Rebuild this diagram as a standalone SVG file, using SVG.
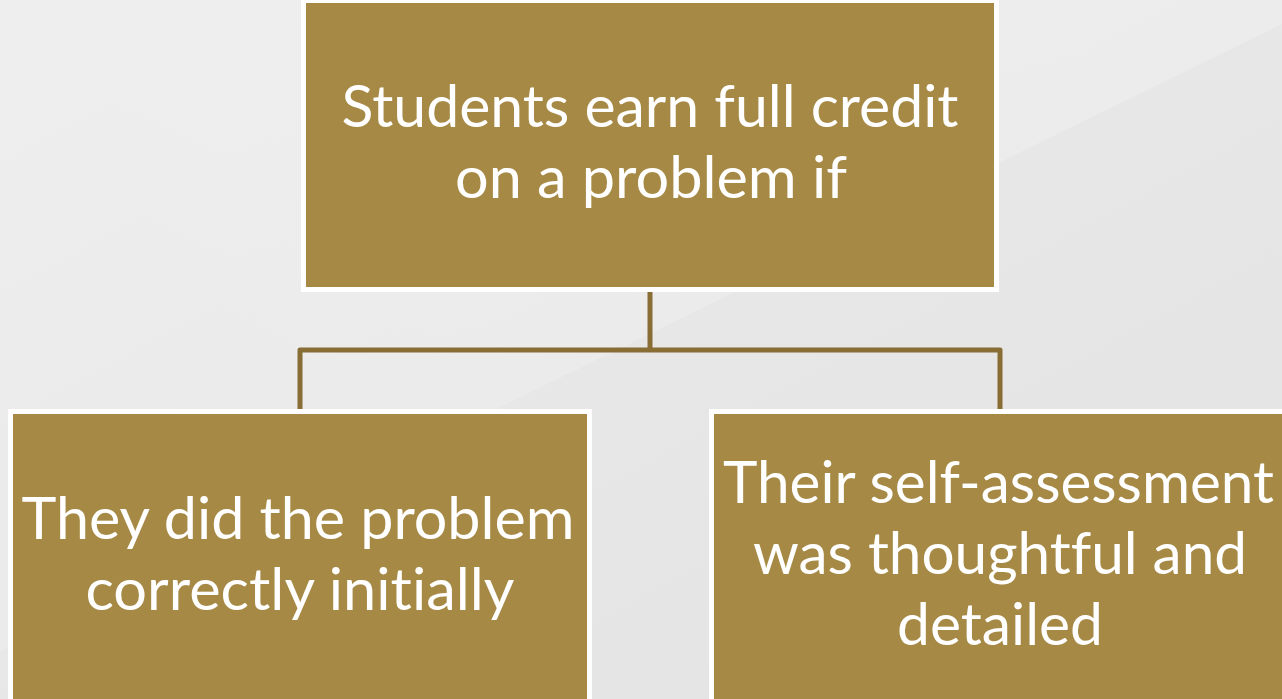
<svg xmlns="http://www.w3.org/2000/svg" width="1282" height="699" viewBox="0 0 1282 699">
  <defs>
    <linearGradient id="bgGrad" x1="0" y1="0" x2="1" y2="1">
      <stop offset="0" stop-color="#EBEBEB"/>
      <stop offset="1" stop-color="#E3E3E3"/>
    </linearGradient>
    <linearGradient id="sheenGrad" x1="0" y1="1" x2="1" y2="0">
      <stop offset="0" stop-color="#FFFFFF" stop-opacity="0.12"/>
      <stop offset="1" stop-color="#FFFFFF" stop-opacity="0.22"/>
    </linearGradient>
    <style>
      .box { fill: #A68945; stroke: #FFFFFF; stroke-width: 5; }
      .label { font-family: "Lato", "Open Sans", "Liberation Sans", sans-serif; font-size: 58px; fill: #FFFFFF; text-anchor: middle; font-variant-ligatures: none; }
      .conn { fill: none; stroke: #886D35; stroke-width: 5; stroke-linejoin: round; }
    </style>
  </defs>

  <!-- background with a soft diagonal sheen -->
  <rect x="0" y="0" width="1282" height="699" fill="url(#bgGrad)"/>
  <polygon points="0,0 1282,0 1282,24 0,652" fill="url(#sheenGrad)"/>

  <!-- connectors -->
  <g id="connectors">
    <path class="conn" d="M650,292 V350"/>
    <path class="conn" d="M300,409 V350 H1000 V409"/>
  </g>

  <!-- top node -->
  <g id="node-root">
    <rect class="box" x="303.5" y="0.5" width="693" height="289"/>
    <text class="label" x="650" y="127" textLength="617" lengthAdjust="spacingAndGlyphs">Students earn full credit</text>
    <text class="label" x="651" y="198" textLength="392" lengthAdjust="spacingAndGlyphs">on a problem if</text>
  </g>

  <!-- left child -->
  <g id="node-correct">
    <rect class="box" x="10.5" y="411.5" width="579" height="292"/>
    <text class="label" x="298" y="539" textLength="553" lengthAdjust="spacingAndGlyphs">They did the problem</text>
    <text class="label" x="300" y="610" textLength="429" lengthAdjust="spacingAndGlyphs">correctly initially</text>
  </g>

  <!-- right child -->
  <g id="node-assessment">
    <rect class="box" x="711.5" y="411.5" width="578" height="292"/>
    <text class="label" x="998.5" y="503" textLength="551" lengthAdjust="spacingAndGlyphs">Their self-assessment</text>
    <text class="label" x="1000" y="574" textLength="494" lengthAdjust="spacingAndGlyphs">was thoughtful and</text>
    <text class="label" x="1000" y="645" textLength="206" lengthAdjust="spacingAndGlyphs">detailed</text>
  </g>
</svg>
